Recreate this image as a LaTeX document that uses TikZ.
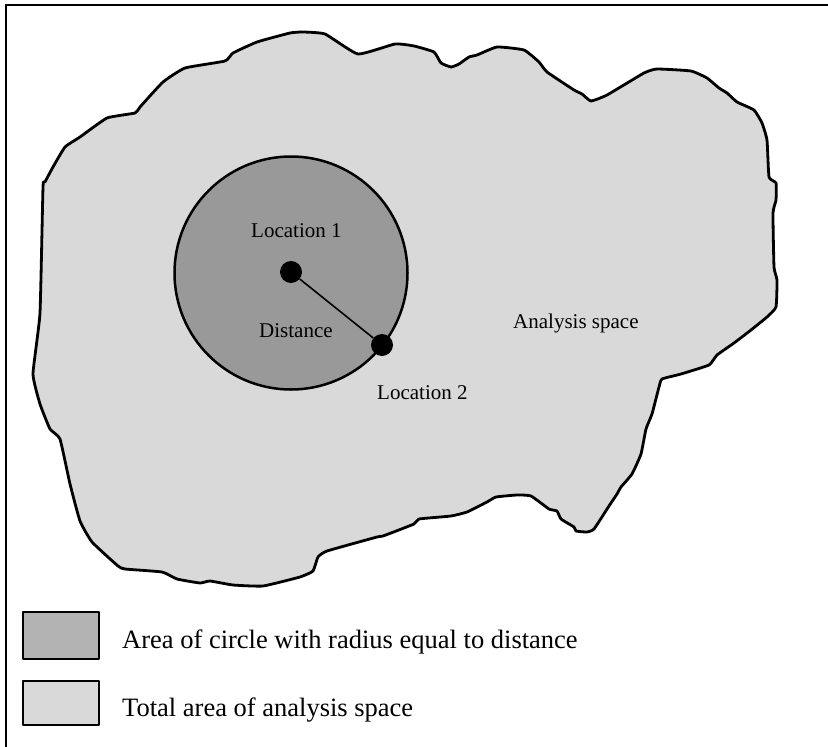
\documentclass[tikz,border=0pt]{standalone}
\usepackage{fontspec}
\setmainfont{Liberation Serif}
\definecolor{blobgray}{HTML}{D9D9D9}
\definecolor{circgray}{HTML}{999999}
\definecolor{leggray}{HTML}{B3B3B3}
\tikzset{
  lbl/.style={anchor=base west, inner sep=0pt, font=\fontsize{21}{25}\selectfont},
  legtext/.style={anchor=base west, inner sep=0pt, font=\fontsize{26.5}{31}\selectfont},
  legbox/.style={draw, line width=2.7pt, line join=round},
  dot/.style={circle, fill=black, inner sep=0pt, minimum size=22pt},
  frameline/.style={line width=2.7pt}
}
\begin{document}
\begin{tikzpicture}[x=1pt, y=-1pt]
\useasboundingbox (0,0) rectangle (828,747);
% frame (only top and left visible)
\draw[frameline] (828,5) -- (6,5) -- (6,747);
% analysis space blob
\draw[line width=2.8pt, fill=blobgray, line join=round]
  plot[smooth cycle, tension=0.25] coordinates {
  (33,374) (40,313) (43,187) (45,182) (53,167) (65,147) (80,137) (107,118) (135,113) (140,107)
  (163,82) (185,68) (225,61) (233,53) (257,42) (290,33) (303,32) (325,34) (358,54) (395,44)
  (414,46) (434,52) (441,63) (451,67) (459,64) (469,57) (477,55) (497,47) (524,50) (539,62)
  (547,72) (574,90) (582,94) (591,101) (607,95) (644,73) (657,69) (691,71) (707,78) (719,88)
  (727,93) (737,102) (754,110) (762,123) (767,140) (769,177) (776,183) (776,200) (773,213) (774,267)
  (777,280) (776,307) (767,317) (751,330) (734,343) (717,355) (709,365) (681,374) (662,379) (659,387)
  (652,414) (646,429) (641,454) (632,474) (621,487) (617,494) (609,506) (594,529) (587,532) (576,531)
  (574,527) (561,519) (557,511) (549,509) (531,496) (517,495) (496,497) (487,502) (467,512) (451,516)
  (419,519) (414,524) (383,536) (377,537) (327,551) (318,557) (313,571) (300,577) (263,586) (233,585)
  (210,581) (200,583) (177,579) (162,572) (125,569) (118,566) (92,542) (80,521) (70,484) (60,439)
  (50,429) (40,404)};
% circle
\node[circle, draw, line width=2.5pt, fill=circgray, minimum size=233pt, inner sep=0pt] (area) at (291,273) {};
% labels
\node[lbl] (l1) at (251,237) {Location 1};
\node[lbl] (dist) at (259,337) {Distance};
\node[lbl] (l2) at (377,399) {Location 2};
\node[lbl] (an) at (513,328) {Analysis space};
% dots and distance
\node[dot] (loc1) at (291,272) {};
\node[dot] (loc2) at (382,345) {};
\draw[line width=1.6pt] (loc1) -- (loc2);
% legend
\node[legbox, fill=leggray, minimum width=76pt, minimum height=47pt, inner sep=0pt] (box1) at (61,635.5) {};
\node[legbox, fill=blobgray, minimum width=76pt, minimum height=44pt, inner sep=0pt] (box2) at (61,703) {};
\node[legtext] (t1) at (122,648) {Area of circle with radius equal to distance};
\node[legtext] (t2) at (122,716) {Total area of analysis space};
\end{tikzpicture}
\end{document}
